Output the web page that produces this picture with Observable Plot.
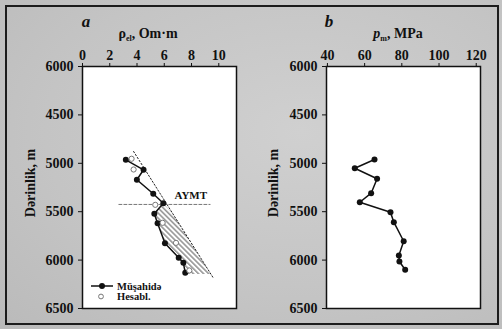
<!DOCTYPE html>
<html><head><meta charset="utf-8">
<script src="https://cdn.jsdelivr.net/npm/d3@7"></script>
<script src="https://cdn.jsdelivr.net/npm/@observablehq/plot@0.6"></script>
<style>
html,body{margin:0;padding:0;background:#d6d6d6;}
#wrap{position:relative;width:502px;height:329px;overflow:hidden;
 background:radial-gradient(ellipse at 60% 40%, #d0d0d0 0%, #c4c4c4 60%, #bababa 100%);}
#border{position:absolute;left:5px;top:5px;width:490px;height:316px;border:2px solid #1c1c1c;box-sizing:content-box;pointer-events:none;}
.panel{position:absolute;top:0;}
</style></head>
<body>
<div id="wrap"><div id="border"></div></div>
<script>
// ---- data ----
const depthTicks = [4000, 4500, 5000, 5500, 6000, 6500];
const depthTickLabels = ["6000", "4500", "5000", "5500", "6000", "6500"];
const rhoTicks = [0, 2, 4, 6, 8, 10];
const pTicks = [40, 60, 80, 100, 120];

// panel a: observed resistivity (Müşahidə)
const obsDepthA = [4964, 5067, 5170, 5315, 5412, 5522, 5619, 5825, 5976, 6028, 6131];
const obsRhoA   = [3.18, 4.48, 3.99, 5.19, 5.93, 5.27, 5.51, 6.05, 7.06, 7.40, 7.54];
// panel a: calculated (Hesabl.)
const calcDepthA = [4953, 5064, 5429, 5615, 5822, 6107];
const calcRhoA   = [3.60, 3.75, 5.34, 5.88, 6.86, 7.84];
// normal-trend dotted line
const trendDepth = [4878, 6176];
const trendRho   = [3.75, 9.56];
// hatched zone (between observed and trend below AYMT)
const hatchDepth = [5412, 5522, 5619, 5825, 5976, 6028, 6131, 6150];
const hatchLeft  = [5.93, 5.27, 5.51, 6.05, 7.06, 7.40, 7.54, 7.60];
const hatchRight = [5.93, 6.63, 7.07, 7.99, 8.66, 8.90, 9.36, 9.45];
// AYMT level
const aymtDepth = 5425;
const aymtRho = [2.67, 9.36];

// panel b: pore pressure
const depthB = [4961, 5051, 5160, 5309, 5402, 5505, 5608, 5805, 5952, 6014, 6100];
const presB  = [65.3, 54.7, 66.7, 63.5, 57.4, 73.9, 75.7, 81.0, 78.4, 78.7, 81.8];

const font = "'Liberation Serif', 'DejaVu Serif', serif";
const wrap = document.getElementById("wrap");

const hatchRows = hatchDepth.map((d, i) => ({d, x1: hatchLeft[i], x2: hatchRight[i]}));
const obsA = obsDepthA.map((d, i) => ({d, x: obsRhoA[i]}));
const calcA = calcDepthA.map((d, i) => ({d, x: calcRhoA[i]}));
const trend = trendDepth.map((d, i) => ({d, x: trendRho[i]}));
const aymt = aymtRho.map(x => ({d: aymtDepth, x}));
const obsB = depthB.map((d, i) => ({d, x: presB[i]}));

const yOpts = {domain: [4000, 6500], reverse: true, ticks: depthTicks,
  tickFormat: d => depthTickLabels[depthTicks.indexOf(d)], tickSize: 4, tickPadding: 5, label: null};
const style = {background: "transparent", fontFamily: font, fontSize: "14px", fontWeight: "bold", color: "#111", overflow: "visible"};

// ---- panel a ----
const pa = Plot.plot({
  width: 250, height: 329,
  marginLeft: 82, marginRight: 14, marginTop: 66, marginBottom: 21,
  style,
  x: {domain: [0, 11.3], axis: "top", ticks: rhoTicks, tickSize: 4, tickPadding: 3, label: null},
  y: yOpts,
  marks: [
    Plot.frame({fill: "white"}),
    Plot.areaX(hatchRows, {y: "d", x1: "x1", x2: "x2", fill: "url(#hatchA)", curve: "linear"}),
    Plot.line(aymt, {x: "x", y: "d", stroke: "#777", strokeWidth: 1, strokeDasharray: "3,2"}),
    Plot.line(trend, {x: "x", y: "d", stroke: "#222", strokeWidth: 1, strokeDasharray: "1.5,2"}),
    Plot.line(obsA, {x: "x", y: "d", stroke: "#111", strokeWidth: 1.5}),
    Plot.dot(obsA, {x: "x", y: "d", r: 3, fill: "#111", stroke: "none"}),
    Plot.dot(calcA, {x: "x", y: "d", r: 2.6, fill: "white", stroke: "#777", strokeWidth: 1}),
    Plot.text(["AYMT"], {x: aymtRho[1], y: aymtDepth, text: d => d, textAnchor: "end", dx: -3, dy: -9, fontSize: 11, fontWeight: "bold"}),
    Plot.frame({stroke: "#111", strokeWidth: 1.5})
  ]
});
pa.classList.add("panel");
pa.style.left = "0px";
wrap.appendChild(pa);

// ---- panel b ----
const pb = Plot.plot({
  width: 252, height: 329,
  marginLeft: 76, marginRight: 22, marginTop: 66, marginBottom: 21,
  style,
  x: {domain: [39.5, 122.3], axis: "top", ticks: pTicks, tickSize: 4, tickPadding: 3, label: null},
  y: yOpts,
  marks: [
    Plot.frame({fill: "white"}),
    Plot.line(obsB, {x: "x", y: "d", stroke: "#111", strokeWidth: 1.5}),
    Plot.dot(obsB, {x: "x", y: "d", r: 3, fill: "#111", stroke: "none"}),
    Plot.frame({stroke: "#111", strokeWidth: 1.5})
  ]
});
pb.classList.add("panel");
pb.style.left = "250px";
wrap.appendChild(pb);

// ---- decorations: hatch pattern, titles, labels, legend ----
const sa = d3.select(pa);
const defs = sa.insert("defs", ":first-child");
const pat = defs.append("pattern").attr("id", "hatchA").attr("patternUnits", "userSpaceOnUse")
  .attr("width", 3.6).attr("height", 3.6).attr("patternTransform", "rotate(-45)");
pat.append("line").attr("x1", 0.8).attr("y1", 0).attr("x2", 0.8).attr("y2", 3.6)
  .attr("stroke", "#555").attr("stroke-width", 1);

function deco(svg, letter, lx, labelX, yLabelX, labelFn) {
  svg.append("text").attr("x", lx).attr("y", 27).attr("text-anchor", "middle")
    .attr("font-family", font).attr("font-size", 17).attr("font-weight", "bold").attr("font-style", "italic")
    .attr("fill", "#111").text(letter);
  const t = svg.append("text").attr("x", labelX).attr("y", 38).attr("text-anchor", "middle")
    .attr("font-family", font).attr("font-size", 14).attr("font-weight", "bold").attr("fill", "#111");
  labelFn(t);
  svg.append("text").attr("transform", `translate(${yLabelX},183) rotate(-90)`).attr("text-anchor", "middle")
    .attr("font-family", font).attr("font-size", 14).attr("font-weight", "bold").attr("fill", "#111")
    .text("Dərinlik, m");
}
deco(sa, "a", 86, 148, 35, t => {
  t.append("tspan").text("ρ");
  t.append("tspan").attr("font-size", 8).attr("dy", 3).text("el");
  t.append("tspan").attr("dy", -3).text(", Om·m");
});
const sb = d3.select(pb);
deco(sb, "b", 79, 148, 28, t => {
  t.append("tspan").attr("font-style", "italic").text("p");
  t.append("tspan").attr("font-size", 8).attr("dy", 3).text("m");
  t.append("tspan").attr("dy", -3).text(", MPa");
});

// legend in panel a
const lg = sa.append("g").attr("font-family", font).attr("font-size", 10.5).attr("font-weight", "bold")
  .attr("fill", "#111").attr("text-anchor", "start");
lg.append("line").attr("x1", 91).attr("x2", 113).attr("y1", 286).attr("y2", 286).attr("stroke", "#111").attr("stroke-width", 1.5);
lg.append("circle").attr("cx", 102).attr("cy", 286).attr("r", 3).attr("fill", "#111");
lg.append("text").attr("x", 117).attr("y", 289.5).attr("text-anchor", "start").text("Müşahidə");
lg.append("circle").attr("cx", 101).attr("cy", 296.5).attr("r", 2.4).attr("fill", "white").attr("stroke", "#777");
lg.append("text").attr("x", 117).attr("y", 300).attr("text-anchor", "start").text("Hesabl.");
</script>
</body></html>
